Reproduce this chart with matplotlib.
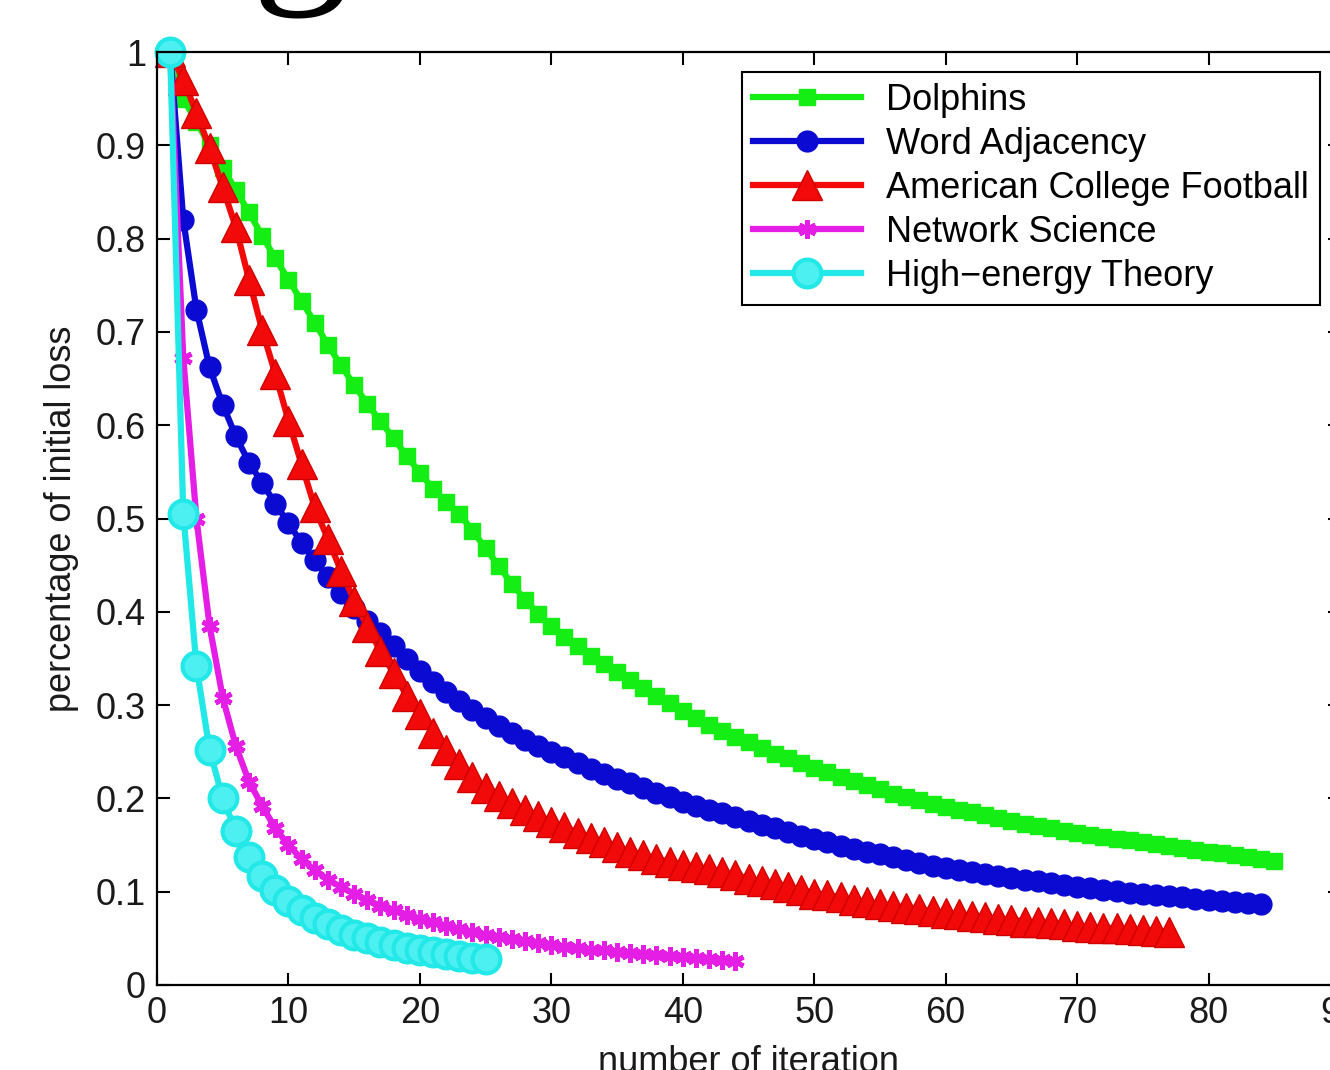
import numpy as np
import matplotlib
matplotlib.use('Agg')
import matplotlib.pyplot as plt

plt.rcParams['font.family'] = ['Liberation Sans', 'DejaVu Sans']

# loss ratio per iteration
dolphins = [1.000, 0.950, 0.925, 0.900, 0.876, 0.852, 0.828, 0.803, 0.779, 0.756,
            0.733, 0.710, 0.686, 0.664, 0.643, 0.623, 0.604, 0.586, 0.567, 0.549,
            0.532, 0.518, 0.505, 0.487, 0.468, 0.449, 0.430, 0.413, 0.398, 0.385,
            0.373, 0.363, 0.353, 0.344, 0.336, 0.327, 0.318, 0.310, 0.302, 0.294,
            0.286, 0.279, 0.272, 0.266, 0.260, 0.254, 0.248, 0.243, 0.238, 0.233,
            0.228, 0.223, 0.219, 0.214, 0.210, 0.205, 0.201, 0.198, 0.194, 0.191,
            0.188, 0.185, 0.182, 0.179, 0.176, 0.173, 0.170, 0.168, 0.165, 0.163,
            0.161, 0.159, 0.157, 0.155, 0.153, 0.151, 0.149, 0.147, 0.145, 0.143,
            0.141, 0.139, 0.137, 0.135, 0.133]
word_adj = [1.000, 0.820, 0.724, 0.662, 0.622, 0.588, 0.560, 0.538, 0.516, 0.495,
            0.474, 0.455, 0.437, 0.420, 0.404, 0.390, 0.377, 0.363, 0.349, 0.337,
            0.325, 0.314, 0.304, 0.295, 0.286, 0.278, 0.270, 0.263, 0.256, 0.250,
            0.244, 0.238, 0.232, 0.226, 0.221, 0.216, 0.211, 0.206, 0.201, 0.196,
            0.192, 0.188, 0.184, 0.180, 0.176, 0.172, 0.168, 0.164, 0.160, 0.156,
            0.153, 0.149, 0.146, 0.143, 0.140, 0.137, 0.134, 0.131, 0.128, 0.125,
            0.123, 0.121, 0.119, 0.117, 0.115, 0.113, 0.111, 0.109, 0.107, 0.105,
            0.104, 0.102, 0.101, 0.099, 0.098, 0.096, 0.095, 0.094, 0.092, 0.091,
            0.090, 0.089, 0.088, 0.087]
football = [1.000, 0.970, 0.935, 0.897, 0.855, 0.812, 0.756, 0.702, 0.655, 0.605,
            0.558, 0.512, 0.478, 0.444, 0.412, 0.384, 0.358, 0.334, 0.310, 0.290,
            0.270, 0.252, 0.237, 0.223, 0.211, 0.203, 0.195, 0.188, 0.181, 0.175,
            0.169, 0.163, 0.158, 0.153, 0.148, 0.143, 0.139, 0.135, 0.132, 0.129,
            0.127, 0.124, 0.121, 0.118, 0.114, 0.111, 0.108, 0.105, 0.102, 0.098,
            0.096, 0.094, 0.091, 0.089, 0.087, 0.085, 0.083, 0.081, 0.079, 0.077,
            0.076, 0.074, 0.073, 0.071, 0.070, 0.068, 0.067, 0.066, 0.065, 0.063,
            0.062, 0.061, 0.061, 0.060, 0.059, 0.058, 0.057]
net_sci = [1.000, 0.672, 0.500, 0.385, 0.308, 0.256, 0.218, 0.192, 0.168, 0.150,
           0.135, 0.123, 0.113, 0.105, 0.098, 0.091, 0.085, 0.080, 0.075, 0.071,
           0.067, 0.063, 0.060, 0.057, 0.054, 0.051, 0.049, 0.047, 0.045, 0.043,
           0.041, 0.040, 0.038, 0.037, 0.035, 0.034, 0.033, 0.032, 0.031, 0.030,
           0.029, 0.028, 0.027, 0.026]
hep_th = [1.000, 0.505, 0.342, 0.252, 0.200, 0.165, 0.137, 0.117, 0.102, 0.090,
          0.080, 0.072, 0.065, 0.059, 0.054, 0.050, 0.046, 0.043, 0.040, 0.037,
          0.035, 0.033, 0.031, 0.029, 0.028]

names = ['Dolphins', 'Word Adjacency', 'American College Football',
         'Network Science', 'High\u2212energy Theory']
xticks = [0, 10, 20, 30, 40, 50, 60, 70, 80, 90]
yticks = [0, 0.1, 0.2, 0.3, 0.4, 0.5, 0.6, 0.7, 0.8, 0.9, 1]
ytick_labels = ['0', '0.1', '0.2', '0.3', '0.4', '0.5', '0.6', '0.7', '0.8', '0.9', '1']

styles = [
    dict(color='#14ee14', marker='s', ms=12, mfc='#14ee14', mec='#14ee14'),
    dict(color='#0a0ad2', marker='o', ms=15, mfc='#0a0ad2', mec='#0a0ad2'),
    dict(color='#f20a0a', marker='^', ms=21, mfc='#f20a0a', mec='#d00000', mew=1),
    dict(color='#e51ee5', marker=(6, 2, 0), ms=13, mec='#e51ee5', mew=3.5),
    dict(color='#22e8e8', marker='o', ms=20, mfc='#4cf0f0', mec='#22e8e8', mew=3),
]

fig = plt.figure(figsize=(13.3, 10.7), dpi=100)
ax = fig.add_axes([157/1330, 85/1070, 1183/1330, 933/1070])

for y, name, st in zip([dolphins, word_adj, football, net_sci, hep_th], names, styles):
    x = np.arange(1, len(y) + 1)
    ax.plot(x, y, lw=4.5, label=name, clip_on=False, **st)

ax.set_xlim(0, 90)
ax.set_ylim(0, 1)
ax.set_xticks(xticks)
ax.set_yticks(yticks)
ax.set_yticklabels(ytick_labels)
ax.tick_params(direction='in', length=9, width=1.5, top=True, right=True,
               labelsize=26, pad=8, labelcolor='#1a1a1a')
for sp in ax.spines.values():
    sp.set_linewidth(1.6)

ax.set_ylabel('percentage of initial loss', fontsize=26, color='#1a1a1a')
ax.yaxis.set_label_coords(-0.066, 0.5)
ax.set_xlabel('number of iteration', fontsize=26, color='#1a1a1a', va='top')
ax.xaxis.set_label_coords(0.5, -0.064)

leg = ax.legend(loc='upper right', bbox_to_anchor=(1320/1330, 1 - 72/1070),
                bbox_transform=fig.transFigure, fontsize=26, fancybox=False,
                edgecolor='black', framealpha=1, borderaxespad=0, numpoints=1,
                handlelength=3.0, handletextpad=0.7, labelspacing=0.25, borderpad=0.3)
leg.get_frame().set_linewidth(1.5)

# bottom of a caption glyph cut by the crop
fig.text(300/1330, 1 + 24/1070, 'g', family='Liberation Serif', fontsize=140,
         ha='center', va='baseline', color='black')

fig.savefig('out.png', dpi=100)
